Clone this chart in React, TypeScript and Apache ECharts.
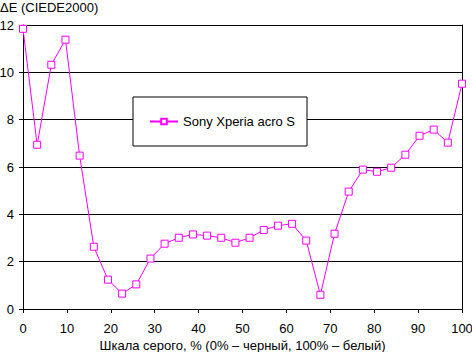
import React, { useEffect, useRef } from "react";
import * as echarts from "echarts";

const seriesName = "Sony Xperia acro S";
const deltaE = [
  11.84, 6.94, 10.32, 11.38, 6.48, 2.63, 1.24, 0.65, 1.04, 2.13, 2.76, 3.01, 3.15, 3.1, 3.01, 2.8,
  3.01, 3.34, 3.52, 3.6, 2.89, 0.6, 3.18, 4.96, 5.89, 5.8, 5.97, 6.52, 7.32, 7.58, 7.03, 9.52,
];
const grayPercent = deltaE.map((_, i) => (i * 100) / (deltaE.length - 1));
const yAxisTitle = "ΔE (CIEDE2000)";
const xAxisTitle = "Шкала серого, % (0% – черный, 100% – белый)";

const FONT = "'Liberation Sans', Arial, sans-serif";
const MAGENTA = "#ff00ff";

export default function App() {
  const ref = useRef<HTMLDivElement>(null);
  useEffect(() => {
    if (!ref.current) return;
    const chart = echarts.init(ref.current, undefined, { renderer: "svg" });
    chart.setOption({
      animation: false,
      backgroundColor: "#ffffff",
      textStyle: { fontFamily: FONT, color: "#000" },
      title: {
        text: yAxisTitle,
        left: 0,
        top: 1,
        padding: 0,
        textStyle: { fontFamily: FONT, fontSize: 13, fontWeight: "normal", color: "#000" },
      },
      graphic: [
        {
          type: "text",
          x: 242.5,
          y: 345,
          style: {
            text: xAxisTitle,
            fill: "#000",
            font: "13px 'Liberation Sans', Arial, sans-serif",
            align: "center",
            verticalAlign: "middle",
          },
        },
      ],
      grid: {
        left: 23,
        right: 10,
        top: 25,
        bottom: 43,
        containLabel: false,
        outerBoundsMode: "none",
      },
      legend: {
        left: 133,
        top: 97,
        padding: [18, 12, 18, 16],
        borderColor: "#000",
        borderWidth: 1,
        backgroundColor: "#fff",
        itemWidth: 28,
        itemHeight: 7,
        itemGap: 5,
        textStyle: { fontFamily: FONT, fontSize: 13, color: "#000" },
        data: [seriesName],
      },
      xAxis: {
        type: "value",
        min: 0,
        max: 100,
        interval: 10,
        axisLine: { show: true, lineStyle: { color: "#000", width: 1 } },
        axisTick: { show: true, length: 4, lineStyle: { color: "#000" } },
        axisLabel: { fontFamily: FONT, fontSize: 13, color: "#000", margin: 13 },
        splitLine: { show: false },
      },
      yAxis: [
        {
          type: "value",
          min: 0,
          max: 12,
          interval: 2,
          axisLine: { show: true, lineStyle: { color: "#000", width: 1 } },
          axisTick: { show: true, length: 4, lineStyle: { color: "#000" } },
          axisLabel: { fontFamily: FONT, fontSize: 13, color: "#000", margin: 9 },
          splitLine: { show: true, lineStyle: { color: "#000", width: 1 } },
        },
        {
          type: "value",
          min: 0,
          max: 12,
          interval: 2,
          position: "right",
          axisLine: { show: true, lineStyle: { color: "#000", width: 1 } },
          axisTick: { show: false },
          axisLabel: { show: false },
          splitLine: { show: false },
        },
      ],
      series: [
        {
          name: seriesName,
          type: "line",
          data: grayPercent.map((x, i) => [x, deltaE[i]]),
          symbol: "rect",
          symbolSize: 7,
          showAllSymbol: true,
          lineStyle: { color: MAGENTA, width: 1 },
          itemStyle: { color: "#fff", borderColor: MAGENTA, borderWidth: 1 },
        },
      ],
    });
    return () => chart.dispose();
  }, []);
  return (
    <div
      ref={ref}
      style={{ position: "fixed", left: 0, top: 0, width: 472, height: 352 }}
    />
  );
}
